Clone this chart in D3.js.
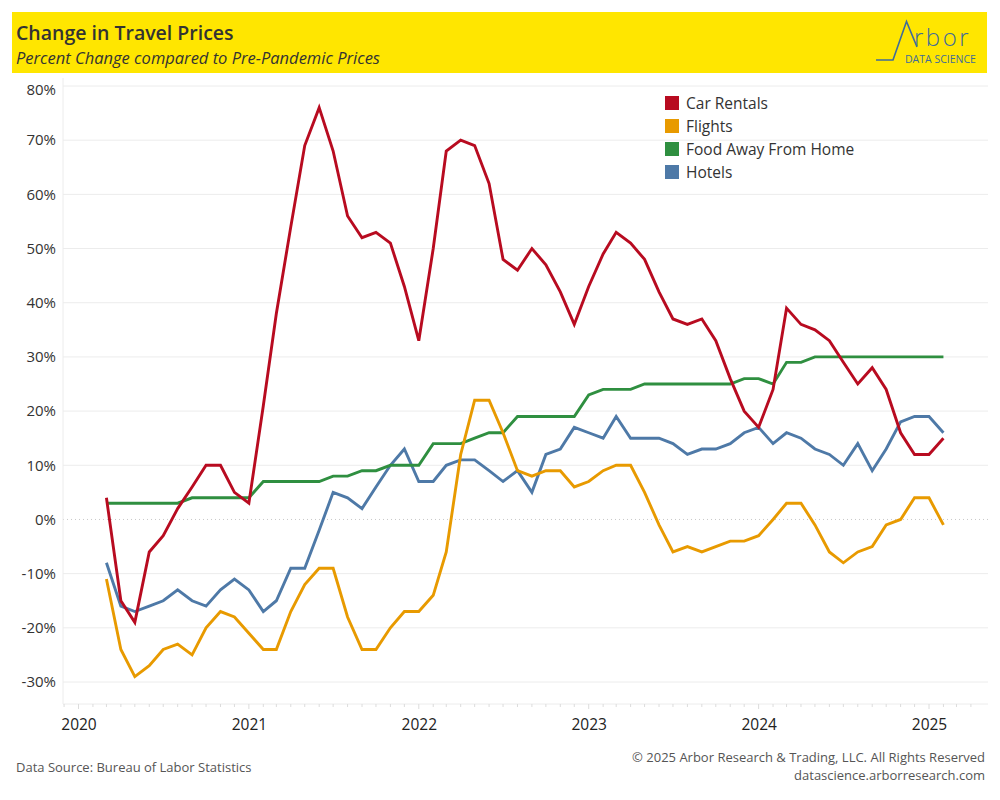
<!DOCTYPE html>
<html>
<head>
<meta charset="utf-8">
<script src="https://cdn.jsdelivr.net/npm/d3@7/dist/d3.min.js"></script>
<style>
  html, body { margin: 0; padding: 0; background: #fff; }
  svg { display: block; }
  text { font-family: "Open Sans", "Noto Sans", sans-serif; }
</style>
</head>
<body>
<svg id="chart" width="1000" height="800"></svg>
<script>
// ---- Data (monthly, Mar 2020 – Feb 2025), percent change vs pre-pandemic ----
const startMonth = "2020-03";
const seriesNames = ["Car Rentals", "Flights", "Food Away From Home", "Hotels"];
const seriesColors = ["#B80B20", "#E89A00", "#2F8F40", "#4E79A7"];

const carRentals = [4, -15, -19, -6, -3, 2, 6, 10, 10, 5, 3,
  21, 38, 54, 69, 76, 68, 56, 52, 53, 51, 43, 33, 50, 68, 70, 69, 62,
  48, 46, 50, 47, 42, 36, 43, 49, 53, 51, 48, 42, 37, 36, 37,
  33, 26, 20, 17, 24, 39, 36, 35, 33, 29, 25, 28, 24, 16, 12, 12, 15];
const flights = [-11, -24, -29, -27, -24, -23, -25, -20, -17, -18, -21, -24, -24,
  -17, -12, -9, -9, -18, -24, -24, -20, -17, -17, -14, -6, 12, 22, 22,
  16, 9, 8, 9, 9, 6, 7, 9, 10, 10, 5, -1, -6, -5, -6,
  -5, -4, -4, -3, 0, 3, 3, -1, -6, -8, -6, -5, -1, 0, 4, 4, -1];
const foodAway = [3, 3, 3, 3, 3, 3, 4, 4, 4, 4, 4, 7, 7, 7, 7, 7, 8, 8, 9, 9,
  10, 10, 10, 14, 14, 14, 15, 16, 16, 19, 19, 19, 19, 19, 23, 24, 24, 24,
  25, 25, 25, 25, 25, 25, 25, 26, 26, 25, 29, 29,
  30, 30, 30, 30, 30, 30, 30, 30, 30, 30];
const hotels = [-8, -16, -17, -16, -15, -13, -15, -16, -13, -11, -13, -17, -15,
  -9, -9, -2, 5, 4, 2, 6, 10, 13, 7, 7, 10, 11, 11, 9, 7,
  9, 5, 12, 13, 17, 16, 15, 19, 15, 15, 15, 14, 12, 13,
  13, 14, 16, 17, 14, 16, 15, 13, 12, 10, 14, 9, 13, 18, 19, 19, 16];
const yTicks = [80, 70, 60, 50, 40, 30, 20, 10, 0, -10, -20, -30];
const yearTicks = [2020, 2021, 2022, 2023, 2024, 2025];

const title = "Change in Travel Prices";
const subtitle = "Percent Change compared to Pre-Pandemic Prices";
const sourceText = "Data Source: Bureau of Labor Statistics";
const copyrightText = "\u00A9 2025 Arbor Research & Trading, LLC. All Rights Reserved";
const siteText = "datascience.arborresearch.com";

// ---- Build ----
const svg = d3.select("#chart");
const parse = d3.timeParse("%Y-%m");
const t0 = parse(startMonth);
const dates = carRentals.map((_, i) => d3.timeMonth.offset(t0, i));
const allSeries = [carRentals, flights, foodAway, hotels];

const plot = { left: 63, right: 988, top: 78, bottom: 704 };

const x = d3.scaleTime()
  .domain([new Date(2020, 0, 1), new Date(2025, 0, 1)])
  .range([78.5, 929]);
const y = d3.scaleLinear().domain([-30, 80]).range([682, 86]);

// Header band
svg.append("rect").attr("x", 12).attr("y", 12).attr("width", 975).attr("height", 61)
  .attr("fill", "#FFE600");
svg.append("text").attr("x", 16).attr("y", 40).text(title)
  .attr("font-size", 19.5).attr("font-weight", 600).attr("fill", "#333");
svg.append("text").attr("x", 16).attr("y", 64).text(subtitle)
  .attr("font-size", 16.5).attr("font-style", "italic").attr("fill", "#333");

// Logo
const logo = svg.append("g").attr("stroke", "#3F6C9A").attr("fill", "none").attr("stroke-width", 1.6);
logo.append("path").attr("d", "M876,60 L893,60 L906.5,21.5 L917,47");
svg.append("text").attr("x", 914).attr("y", 46).text("rbor")
  .attr("font-family", "Lato, 'Open Sans', sans-serif").attr("font-weight", 300)
  .attr("font-size", 24).attr("letter-spacing", 2.5).attr("fill", "#3F6C9A");
svg.append("text").attr("x", 905).attr("y", 63).text("DATA SCIENCE")
  .attr("font-size", 10.5).attr("fill", "#3F6C9A");

// Gridlines
const grid = svg.append("g");
grid.selectAll("line.g").data(yTicks.filter(d => d !== 0)).join("line")
  .attr("x1", plot.left).attr("x2", plot.right)
  .attr("y1", d => y(d)).attr("y2", d => y(d))
  .attr("stroke", "#ececec").attr("stroke-width", 1);
// zero line dotted
grid.append("line").attr("x1", plot.left).attr("x2", plot.right)
  .attr("y1", y(0)).attr("y2", y(0))
  .attr("stroke", "#c8c8c8").attr("stroke-width", 1).attr("stroke-dasharray", "1,3");
// axis frame lines
grid.append("line").attr("x1", plot.left).attr("x2", plot.left)
  .attr("y1", plot.top).attr("y2", plot.bottom).attr("stroke", "#ececec");
grid.append("line").attr("x1", plot.left).attr("x2", plot.right)
  .attr("y1", plot.bottom).attr("y2", plot.bottom).attr("stroke", "#ececec");

// Y axis labels
const yAxis = d3.axisLeft(y).tickValues(yTicks).tickSize(0).tickPadding(0)
  .tickFormat(d => d + "%");
const yg = svg.append("g").attr("transform", `translate(56,0)`).call(yAxis);
yg.select(".domain").remove();
yg.selectAll("text").attr("font-size", 15).attr("fill", "#333")
  .attr("font-family", "'Open Sans', sans-serif");
// the top label sits slightly inside the pane
yg.selectAll(".tick").filter(d => d === 80).select("text").attr("y", 4);

// X axis: monthly minor ticks + year labels
const months = d3.timeMonth.range(new Date(2019, 11, 1), new Date(2025, 4, 1));
svg.append("g").selectAll("line").data(months).join("line")
  .attr("x1", d => x(d)).attr("x2", d => x(d))
  .attr("y1", plot.bottom).attr("y2", d => plot.bottom + (d.getMonth() === 0 ? 5 : 3))
  .attr("stroke", "#dcdcdc");
const xAxis = d3.axisBottom(x)
  .tickValues(yearTicks.map(yr => new Date(yr, 0, 1)))
  .tickFormat(d3.timeFormat("%Y")).tickSize(0).tickPadding(0);
const xg = svg.append("g").attr("transform", `translate(0,${plot.bottom + 15})`).call(xAxis);
xg.select(".domain").remove();
xg.selectAll("text").attr("font-size", 15.5).attr("fill", "#222")
  .attr("font-family", "'Liberation Sans', Arial, sans-serif");

// Lines (Hotels bottom, Car Rentals top)
const line = d3.line().x((d, i) => x(dates[i])).y(d => y(d)).curve(d3.curveLinear);
const order = [3, 2, 1, 0];
svg.append("g").selectAll("path").data(order).join("path")
  .attr("d", k => line(allSeries[k]))
  .attr("fill", "none")
  .attr("stroke", k => seriesColors[k])
  .attr("stroke-width", 2.9)
  .attr("stroke-linejoin", "miter")
  .attr("stroke-linecap", "butt");

// Legend
const lg = svg.append("g").attr("transform", "translate(665,96)");
const items = lg.selectAll("g").data(seriesNames).join("g")
  .attr("transform", (d, i) => `translate(0,${i * 23})`);
items.append("rect").attr("width", 14).attr("height", 14)
  .attr("fill", (d, i) => seriesColors[i]);
items.append("text").attr("x", 21).attr("y", 13).text(d => d)
  .attr("font-size", 15.5).attr("fill", "#333");

// Footer
svg.append("text").attr("x", 16).attr("y", 772).text(sourceText)
  .attr("font-size", 13).attr("fill", "#555")
  .attr("font-family", "'Liberation Sans', Arial, sans-serif");
svg.append("text").attr("x", 985).attr("y", 762).text(copyrightText)
  .attr("text-anchor", "end").attr("font-size", 13).attr("fill", "#555")
  .attr("font-family", "'Liberation Sans', Arial, sans-serif");
svg.append("text").attr("x", 985).attr("y", 780).text(siteText)
  .attr("text-anchor", "end").attr("font-size", 13).attr("fill", "#555")
  .attr("font-family", "'Liberation Sans', Arial, sans-serif");
</script>
</body>
</html>
